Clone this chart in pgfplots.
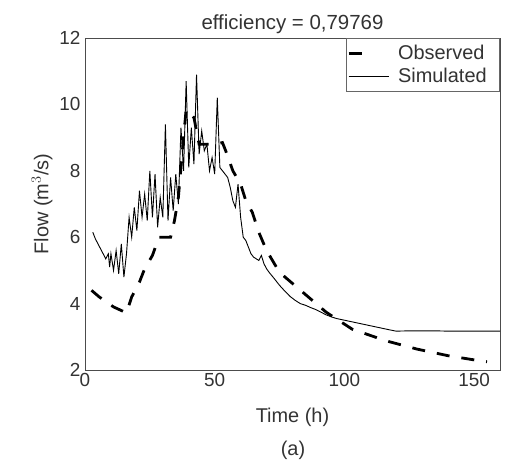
\documentclass[border=0pt]{standalone}
\usepackage{fontspec}
\setmainfont{Liberation Sans}
\usepackage{pgfplots}
\pgfplotsset{compat=1.18}
\begin{document}
\begin{tikzpicture}
\path[use as bounding box] (-85bp,-96bp) rectangle (421bp,370bp);
\begin{axis}[
  scale only axis, width=415bp, height=332bp,
  at={(0,0)}, anchor=south west,
  xmin=0, xmax=160, ymin=2, ymax=12,
  xtick={0,50,100,150}, ytick={2,4,6,8,10,12},
  major tick length=0pt,
  axis line style={draw=black!70, line width=0.7bp},
  /pgf/number format/assume math mode=true,
  tick label style={font=\fontsize{19}{21}\selectfont, text=black!80},
  yticklabel style={xshift=-1bp},
  label style={font=\fontsize{20}{23}\selectfont, text=black!80},
  xlabel={Time (h)},
  ylabel={Flow (m$^3$/s)},
  xlabel style={yshift=-14bp},
  ylabel style={yshift=0bp},
  title={efficiency = 0,79769},
  title style={font=\fontsize{20.5}{23}\selectfont, text=black!80, yshift=-5bp},
  legend style={at={(1,1)}, anchor=north east, draw=black!60, line width=0.6bp,
    font=\fontsize{20}{22}\selectfont, text=black!80, inner xsep=1bp, inner ysep=5bp,
    row sep=3bp, cells={anchor=west}},
  legend cell align=left,
  clip=true,
]
\addplot[black, line width=2.8bp, dash pattern=on 13bp off 12bp,
  legend image code/.code={\draw[black, line width=2.8bp] (0bp,0bp)--(14bp,0bp); \path (40bp,0bp);}]
coordinates {
(2.5,4.4) (5.5,4.2) (11,3.9) (16,3.72) (18,4.2) (21,4.65) (23,5.05) (26,5.45)
(28.5,6.0) (33,6.0) (34.5,6.5) (36,7.2) (38,9.0) (39,9.85) (42,9.6) (44,8.8)
(50,8.8) (53,8.85) (54.5,8.55) (57,8.0) (60,7.6) (62,7.1) (64.5,6.75) (67,6.15)
(70,5.6) (75,4.94) (84,4.34) (93,3.74) (103,3.23) (116,2.88) (128,2.63)
(140,2.43) (152,2.28) (155,2.25)
};
\addlegendentry{\hspace*{6bp}Observed\hspace*{10bp}}
\addplot[black, line width=0.9bp,
  legend image code/.code={\draw[black, line width=0.9bp] (0bp,0bp)--(40bp,0bp);}]
coordinates {
(3,6.15) (4,5.95) (5,5.8) (6,5.65) (7,5.5) (8,5.35) (9,5.5) (9.5,5.1) (10,5.5)
(11,5.0) (12,5.6) (13,4.9) (14,5.8) (15,4.8) (16,5.5) (17,6.6) (18,6.0) (19,6.9)
(20,6.2) (21,7.4) (22,6.6) (23,7.3) (24,6.5) (25,8.0) (26,6.6) (27,7.9) (28,6.3)
(29,7.2) (30,6.6) (31,9.4) (32,6.5) (33,7.8) (34,6.8) (35,7.9) (36,7.0) (37,9.3)
(38,8.0) (39,10.7) (40,8.1) (41,9.3) (42,8.2) (43,10.9) (44,8.5) (45,9.2) (46,8.6)
(47,8.8) (48,8.0) (49,8.4) (50,7.9) (51,10.2) (52,8.1) (53,8.0) (54,7.9) (55,7.8)
(56,7.5) (57,7.1) (58,6.9) (59,7.6) (60,6.6) (61,6.0) (62,5.9) (63,5.7) (64,5.5)
(65,5.4) (66,5.35) (67,5.3) (68,5.45) (69,5.2) (70,5.05) (71,4.94) (73,4.75)
(75,4.55) (77,4.38) (79,4.22) (81,4.1) (83,4.0) (85,3.95) (87,3.88) (89,3.82)
(91,3.74) (93,3.66) (95,3.6) (97,3.55) (100,3.5) (103,3.45) (106,3.4) (109,3.35)
(112,3.3) (115,3.25) (118,3.2) (120,3.17) (125,3.18) (130,3.18) (135,3.18)
(140,3.17) (150,3.17) (160,3.17)
};
\addlegendentry{\hspace*{6bp}Simulated\hspace*{10bp}}
\end{axis}
\node[font=\fontsize{20}{23}\selectfont, text=black!80] at (208bp,-80bp) {(a)};
\end{tikzpicture}
\end{document}
